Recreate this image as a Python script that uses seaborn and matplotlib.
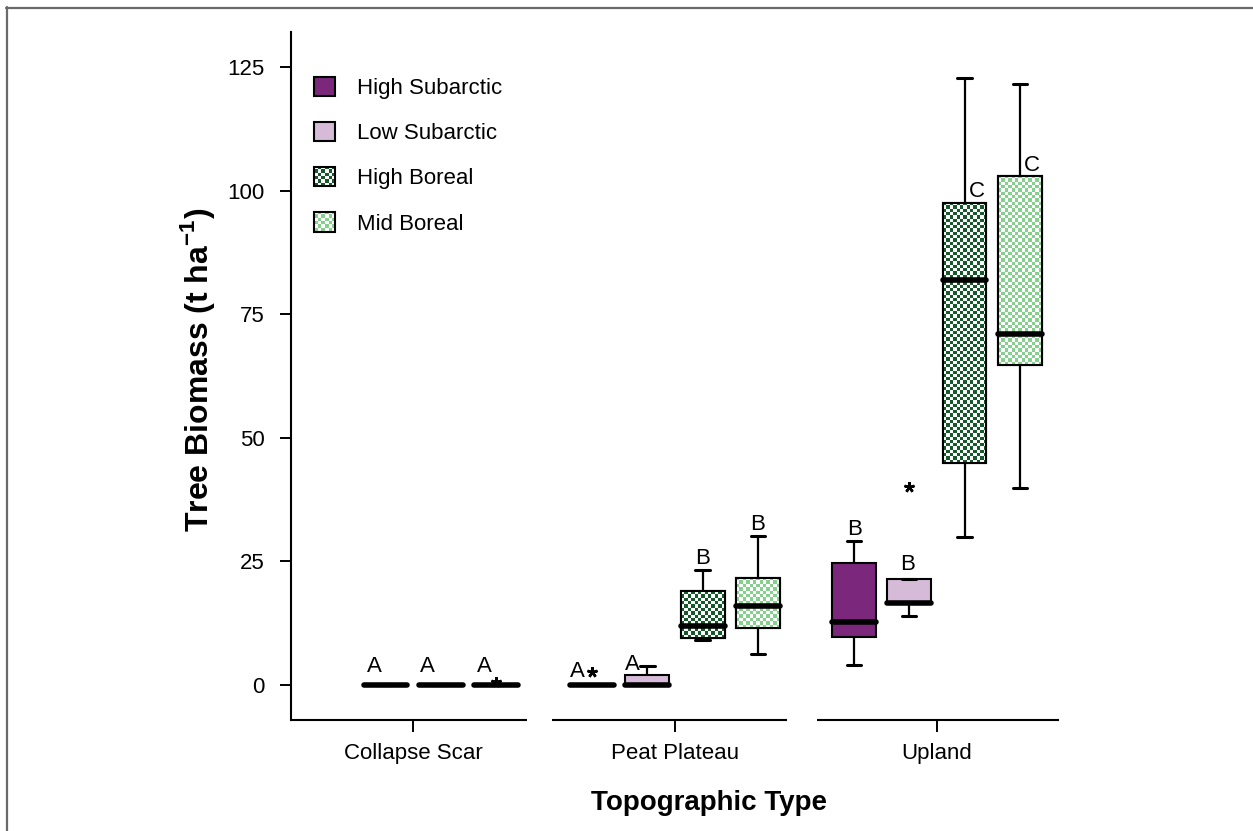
import numpy as np
import pandas as pd
import matplotlib
matplotlib.use("Agg")
import matplotlib.pyplot as plt
import matplotlib.patches as mpatches
from matplotlib.lines import Line2D
from matplotlib.colors import to_rgba, to_rgb
import matplotlib.transforms as mtransforms
import seaborn as sns

# ---------------- data ----------------
topo_types = ["Collapse Scar", "Peat Plateau", "Upland"]
zones = ["High Subarctic", "Low Subarctic", "High Boreal", "Mid Boreal"]
zone_colors = ["#7b277c", "#d6bbd8", "#165a2c", "#86d08e"]
hatched_zones = ["High Boreal", "Mid Boreal"]

# sample values (t/ha)
collapse_low_sub = [0.0, 0.0, 0.0, 0.0, 0.0]
collapse_high_bor = [0.0, 0.0, 0.0, 0.0, 0.0]
collapse_mid_bor = [0.0, 0.0, 0.0, 0.0, 0.0, 0.7]
peat_high_sub = [0.0, 0.0, 0.0, 0.0, 0.0, 2.7]
peat_low_sub = [0.0, 0.0, 0.0, 2.0, 3.9]
peat_high_bor = [9.1, 9.5, 12.0, 19.0, 23.3]
peat_mid_bor = [6.2, 11.5, 16.0, 21.7, 30.1]
upland_high_sub = [4.0, 9.8, 12.7, 24.6, 29.1]
upland_low_sub = [14.0, 16.6, 16.6, 16.6, 16.6, 21.4, 21.4, 21.4, 40.0]
upland_high_bor = [29.9, 45.0, 82.0, 97.6, 122.7]
upland_mid_bor = [39.8, 64.7, 71.1, 103.0, 121.5]

box_topo = ["Collapse Scar", "Collapse Scar", "Collapse Scar",
            "Peat Plateau", "Peat Plateau", "Peat Plateau", "Peat Plateau",
            "Upland", "Upland", "Upland", "Upland"]
box_zone = ["Low Subarctic", "High Boreal", "Mid Boreal",
            "High Subarctic", "Low Subarctic", "High Boreal", "Mid Boreal",
            "High Subarctic", "Low Subarctic", "High Boreal", "Mid Boreal"]
box_values = [collapse_low_sub, collapse_high_bor, collapse_mid_bor,
              peat_high_sub, peat_low_sub, peat_high_bor, peat_mid_bor,
              upland_high_sub, upland_low_sub, upland_high_bor, upland_mid_bor]

# significance letters (text, baseline height, horizontal nudge)
letter_text = ["A", "A", "A", "A", "A", "B", "B", "B", "B", "C", "C"]
letter_y = [2.6, 2.6, 2.6, 1.7, 3.0, 24.5, 31.3, 30.3, 23.3, 98.8, 104.0]
letter_dx = [-0.042, -0.05, -0.044, -0.054, -0.058, 0.0, 0.0, 0.004, -0.008, 0.046, 0.046]

rows = [(t, z, v) for t, z, vals in zip(box_topo, box_zone, box_values) for v in vals]
df = pd.DataFrame(rows, columns=["topo", "zone", "biomass"])

# ---------------- style ----------------
sns.set_theme(style="white")
plt.rcParams["font.family"] = ["Liberation Sans", "DejaVu Sans"]
plt.rcParams["mathtext.fontset"] = "custom"
plt.rcParams["mathtext.rm"] = "Liberation Sans"
plt.rcParams["mathtext.bf"] = "Liberation Sans:bold"
for key in ["text.color", "axes.labelcolor", "xtick.color", "ytick.color"]:
    plt.rcParams[key] = "black"

W, H = 1253, 831
fig = plt.figure(figsize=(W / 100, H / 100), dpi=100)
ax = fig.add_axes([291 / W, 1 - 720 / H, (1059 - 291) / W, (720 - 32) / H])

BOX_WIDTH = 0.845
GAP = 0.21
XLIM = (-0.466, 2.466)
YLIM = (-7.08, 132.1)
palette = dict(zip(zones, zone_colors))

sns.boxplot(data=df, x="topo", y="biomass", hue="zone", order=topo_types,
            hue_order=zones, palette=palette, dodge=True, width=BOX_WIDTH,
            gap=GAP, saturation=1, linecolor="black", linewidth=1.5,
            capwidths=0.055,
            medianprops=dict(linewidth=4.0, solid_capstyle="round", color="black"),
            whiskerprops=dict(linewidth=1.6, color="black"),
            capprops=dict(linewidth=2.2, color="black"),
            flierprops=dict(marker=(5, 2, 0), markersize=7.5, markeredgewidth=1.8,
                            markeredgecolor="black", markerfacecolor="black"),
            legend=False, ax=ax)

ax.set_xlim(*XLIM)
ax.set_ylim(*YLIM)

CELL_PX = 3.3


def checker_image(x0, x1, y0, y1, col, zorder, clip=None):
    """Fill a data-space rectangle with a two-colour checkerboard."""
    disp = ax.transData.transform([[x0, y0], [x1, y1]])
    wpx = abs(disp[1, 0] - disp[0, 0])
    hpx = abs(disp[1, 1] - disp[0, 1])
    nx = max(1, int(round(wpx / CELL_PX)))
    ny = max(1, int(round(hpx / CELL_PX)))
    grid = np.add.outer(np.arange(ny), np.arange(nx)) % 2
    rgb = np.where(grid[..., None] == 0, np.array(to_rgb(col)), np.ones(3))
    im = ax.imshow(rgb, extent=(x0, x1, y0, y1), origin="lower", aspect="auto",
                   interpolation="nearest", zorder=zorder)
    if clip is not None:
        im.set_clip_path(clip)
    return im


hatch_cols = {tuple(np.round(to_rgba(palette[z]), 4)): palette[z] for z in hatched_zones}
for p in list(ax.patches):
    fc = tuple(np.round(p.get_facecolor(), 4))
    if fc in hatch_cols:
        col = hatch_cols[fc]
        ext = p.get_path().get_extents()
        if ext.height > 0:
            z0 = p.get_zorder()
            checker_image(ext.x0, ext.x1, ext.y0, ext.y1, col, z0 + 0.01, clip=p)
            ax.add_patch(mpatches.PathPatch(p.get_path(), fill=False, edgecolor="black",
                                            linewidth=1.5, zorder=z0 + 0.02))

# letters
slot = BOX_WIDTH / len(zones)
for t, z, txt, yv, dx in zip(box_topo, box_zone, letter_text, letter_y, letter_dx):
    xpos = topo_types.index(t) + (zones.index(z) - (len(zones) - 1) / 2) * slot + dx
    ax.text(xpos, yv, txt, ha="center", va="baseline", fontsize=16, color="black")

# axes
ax.set_yticks([0, 25, 50, 75, 100, 125])
ax.set_xticks(range(len(topo_types)))
ax.set_xticklabels(topo_types)
ax.tick_params(axis="y", direction="out", length=8, width=1.4, labelsize=16, pad=11,
               left=True, colors="black")
ax.tick_params(axis="x", direction="out", length=8.5, width=1.4, labelsize=16, pad=8,
               bottom=True, colors="black")
for s in ["top", "right", "bottom"]:
    ax.spines[s].set_visible(False)
ax.spines["left"].set_linewidth(1.5)
ax.spines["left"].set_color("black")

# broken bottom axis: one segment per topographic type
seg_start = [-0.466, 0.530, 1.542]
seg_end = [0.435, 1.428, 2.466]
trans = mtransforms.blended_transform_factory(ax.transData, ax.transAxes)
for a, b in zip(seg_start, seg_end):
    ax.plot([a, b], [0, 0], transform=trans, color="black", lw=1.5,
            clip_on=False, solid_capstyle="butt")

ax.set_xlabel("Topographic Type", fontsize=20, fontweight="bold", color="black")
ax.xaxis.set_label_coords((709 - 291) / 768, -0.102)
ax.set_ylabel("Tree Biomass (t ha$^{\\mathbf{-1}}$)", fontsize=23, fontweight="bold",
              color="black")
ax.yaxis.set_label_coords(-0.096, 0.509)

# legend
handles = []
for z, c in zip(zones, zone_colors):
    fcol = "none" if z in hatched_zones else c
    handles.append(mpatches.Patch(facecolor=fcol, edgecolor="black", linewidth=1.5, label=z))
leg = fig.legend(handles=handles, loc="upper left",
                 bbox_to_anchor=(314 / W, 1 - 77 / H), frameon=False, fontsize=16,
                 handlelength=0.95, handleheight=0.95, handletextpad=1.0,
                 labelspacing=1.03, borderpad=0, borderaxespad=0)

# checkerboard fills for the boreal legend swatches
fig.canvas.draw()
inv = ax.transData.inverted()
for z, lp in zip(zones, leg.get_patches()):
    if z in hatched_zones:
        bb = lp.get_window_extent()
        (x0, y0), (x1, y1) = inv.transform([[bb.x0, bb.y0], [bb.x1, bb.y1]])
        checker_image(x0, x1, y0, y1, palette[z], 4.9)
ax.set_xlim(*XLIM)
ax.set_ylim(*YLIM)

# figure frame (top and left edges visible)
fig.add_artist(Line2D([6 / W, 1.0], [1 - 7.5 / H, 1 - 7.5 / H], transform=fig.transFigure,
                      color="#6a6a6a", lw=1.6))
fig.add_artist(Line2D([6.5 / W, 6.5 / W], [0.0, 1 - 7 / H], transform=fig.transFigure,
                      color="#6a6a6a", lw=1.6))

fig.savefig("out.png", dpi=100, facecolor="white")
